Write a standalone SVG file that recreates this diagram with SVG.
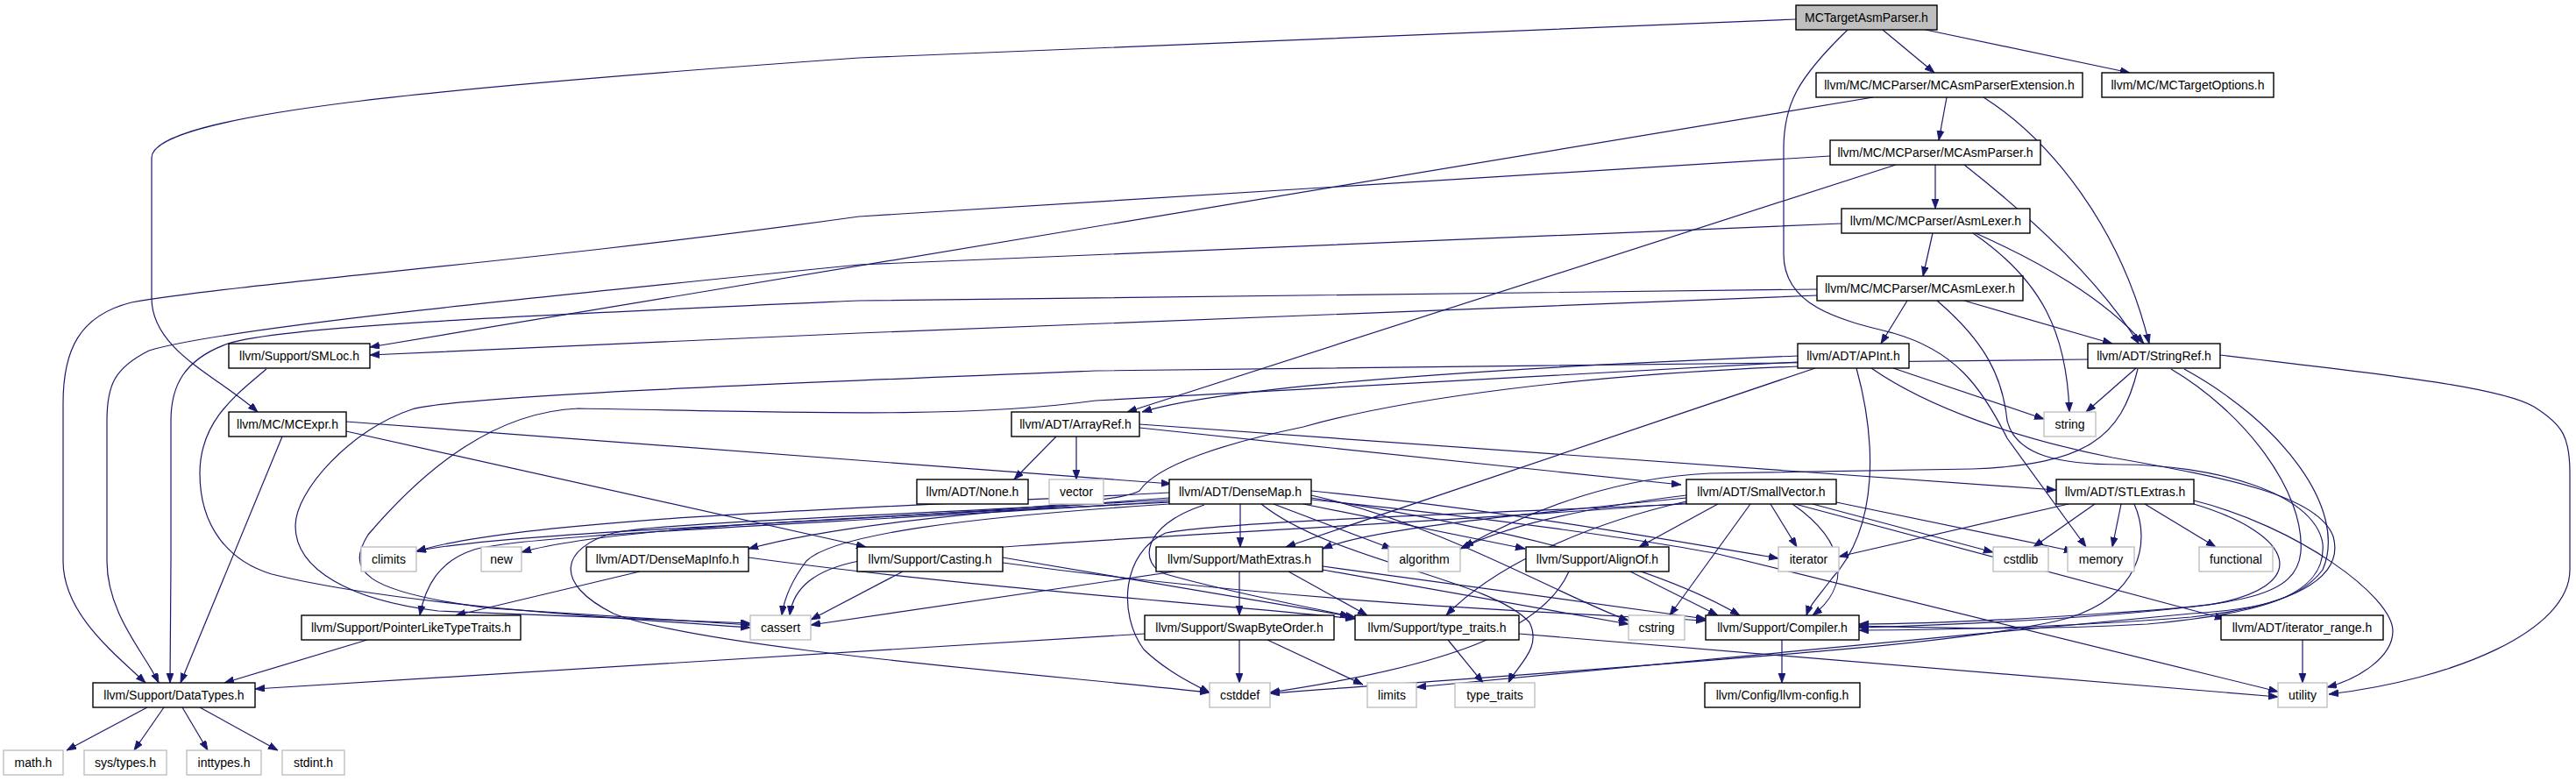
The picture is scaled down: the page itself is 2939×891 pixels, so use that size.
<svg xmlns="http://www.w3.org/2000/svg" width="2939" height="891" viewBox="0 0 2939 891">
<style>
.n rect{fill:#fff;stroke:#000;stroke-width:1.4}
.g rect{fill:#fff;stroke:#bfbfbf;stroke-width:1.4}
.root rect{fill:#bfbfbf;stroke:#000;stroke-width:1.4}
text{font-family:"Liberation Sans",Arial,sans-serif;font-size:14px;fill:#000;text-anchor:middle}
#edges path{fill:none;stroke:#191970;stroke-width:1.2;marker-end:url(#arr)}
</style>
<defs>
<marker id="arr" markerUnits="userSpaceOnUse" markerWidth="12" markerHeight="9" refX="11" refY="4" orient="auto">
<path d="M0,0 L11,4 L0,8 z" fill="#191970" stroke="#191970" stroke-width="0.8"/>
</marker>
</defs>
<rect width="2939" height="891" fill="#fff"/>
<g id="edges">
<path d="M2148,34 L2207,83"/>
<path d="M2197,34 L2430,83"/>
<path d="M2049,22 L980,66 C500,100 173,130 173,180 L173,340 C173,400 250,430 294,470"/>
<path d="M2108,34 C2050,90 2035,120 2035,170 L2035,290 C2035,350 2100,365 2160,380 C2230,400 2260,440 2290,500 L2380,624"/>
<path d="M2221,111 L2212,160"/>
<path d="M2263,111 C2340,160 2420,260 2452,392"/>
<path d="M2137,111 L422,396"/>
<path d="M2208,188 L2208,238"/>
<path d="M2241,188 C2320,250 2395,320 2440,392"/>
<path d="M2163,188 L1286,470"/>
<path d="M2088,178 L980,247 C600,300 300,320 150,345 C90,360 72,400 72,460 L72,640 C72,700 130,745 166,779"/>
<path d="M2205,266 L2194,315"/>
<path d="M2254,266 C2330,300 2400,340 2446,392"/>
<path d="M2251,266 C2330,320 2358,380 2361,470"/>
<path d="M2101,255 L980,302 C600,340 250,375 170,400 C130,420 122,440 122,480 L122,640 C122,700 165,745 181,779"/>
<path d="M2176,343 L2146,392"/>
<path d="M2241,343 L2410,392"/>
<path d="M2210,343 C2265,390 2285,430 2290,480 C2300,520 2350,530 2420,530 C2520,530 2640,560 2650,620 C2655,680 2580,700 2450,712 C2300,720 2200,716 2121,714"/>
<path d="M2073,330 L980,343 C600,360 320,372 260,392 C210,410 195,440 195,480 L195,640 C195,700 194,745 194,779"/>
<path d="M2073,337 L980,380 L422,405"/>
<path d="M2051,406 C1700,420 1400,440 1303,470"/>
<path d="M2071,420 L1467,624"/>
<path d="M2118,420 C2140,500 2145,600 2090,660 C2075,680 2065,690 2061,702"/>
<path d="M2051,413 L1250,457 C1100,478 900,470 660,466 C560,470 480,540 420,610 C395,650 410,675 560,694 L856,713"/>
<path d="M2051,418 C1800,428 1600,455 1487,487 C1400,505 1320,530 1300,560 C1250,590 600,600 475,629"/>
<path d="M2135,420 C2200,465 2300,500 2410,522 C2540,545 2645,565 2662,612 C2676,662 2610,692 2500,704 C2350,716 2200,719 2121,719"/>
<path d="M2160,420 L2332,478"/>
<path d="M2437,420 L2380,470"/>
<path d="M2382,410 L1250,423 C900,437 520,452 470,467 C400,490 337,560 337,600 C337,650 400,685 500,697 L856,711"/>
<path d="M2439,421 C2420,500 2380,530 2250,535 L1950,540 C1850,545 1760,575 1670,624"/>
<path d="M2477,421 C2560,470 2630,560 2625,630 C2620,680 2560,690 2400,700 C2250,710 2180,712 2121,712"/>
<path d="M2492,421 C2600,480 2680,580 2650,650 C2620,690 2560,696 2500,700 L1616,784"/>
<path d="M2533,405 C2700,425 2850,440 2891,464 C2925,485 2932,500 2932,540 L2932,650 C2932,720 2800,775 2657,792"/>
<path d="M304,421 C270,450 228,480 228,540 C228,600 260,640 310,655 C450,690 700,705 856,716"/>
<path d="M322,498 L206,779"/>
<path d="M395,481 L1336,552"/>
<path d="M395,492 L988,624"/>
<path d="M1205,498 L1157,547"/>
<path d="M1228,498 L1228,547"/>
<path d="M1300,488 L1918,553"/>
<path d="M1300,484 L2346,559"/>
<path d="M1334,568 C1100,585 950,600 854,626"/>
<path d="M1487,575 L1740,626"/>
<path d="M1496,568 C1700,600 1880,640 1985,702"/>
<path d="M1415,575 L1415,624"/>
<path d="M1334,572 C900,600 600,610 541,627 C500,640 485,670 479,702"/>
<path d="M1374,576 C1300,600 1300,645 1330,655 C1400,675 1480,690 1540,703"/>
<path d="M1453,575 L1588,626"/>
<path d="M1334,575 C1100,590 950,610 920,640 C905,660 895,680 892,702"/>
<path d="M1334,562 C1000,580 600,590 475,629"/>
<path d="M1334,570 C1100,585 760,595 700,608 C640,625 630,665 700,700 C800,740 1200,770 1380,790"/>
<path d="M1496,565 C1650,600 1780,680 1858,708"/>
<path d="M1496,560 C1700,580 1900,615 2029,637"/>
<path d="M1334,573 C1000,590 700,600 595,630"/>
<path d="M1496,570 C1700,590 1900,620 1960,632 L2599,789"/>
<path d="M2048,575 L2538,706"/>
<path d="M1960,575 L1870,624"/>
<path d="M2045,575 C2110,620 2110,670 2068,702"/>
<path d="M1924,568 C1700,590 1560,605 1509,626"/>
<path d="M1924,572 C1800,600 1700,650 1650,702"/>
<path d="M1924,565 C1800,580 1720,600 1666,626"/>
<path d="M1924,574 C1600,600 1100,620 980,640 C930,650 905,670 901,702"/>
<path d="M1924,575 C1700,585 1400,595 1330,608 C1280,630 1275,700 1305,741 C1330,765 1360,780 1380,790"/>
<path d="M2068,575 L2274,630"/>
<path d="M1997,575 L1905,702"/>
<path d="M2020,575 L2050,624"/>
<path d="M2095,573 L2366,629"/>
<path d="M2503,575 C2620,610 2640,670 2520,690 C2400,705 2250,712 2121,716"/>
<path d="M2435,575 C2455,620 2440,680 2360,705 C2250,735 1960,753 1449,791"/>
<path d="M2390,575 L2320,624"/>
<path d="M2447,575 L2528,624"/>
<path d="M2360,575 L2098,635"/>
<path d="M2420,575 L2410,624"/>
<path d="M2503,571 C2620,600 2730,680 2730,720 C2730,750 2690,775 2655,784"/>
<path d="M730,652 L520,702"/>
<path d="M854,636 C1100,670 1400,690 1546,706"/>
<path d="M1030,652 L925,707"/>
<path d="M1144,636 L1546,704"/>
<path d="M1144,642 C1500,690 1800,700 1946,708"/>
<path d="M1414,652 L1414,702"/>
<path d="M1340,652 L925,713"/>
<path d="M1509,650 L1858,712"/>
<path d="M1509,646 L1946,706"/>
<path d="M1470,652 L1560,702"/>
<path d="M1439,575 C1520,640 1700,660 1745,710 C1760,740 1730,760 1721,779"/>
<path d="M1790,652 C1760,720 1650,760 1449,790"/>
<path d="M1860,652 L1960,702"/>
<path d="M419,730 L256,779"/>
<path d="M1306,723 L291,786"/>
<path d="M1414,730 L1414,779"/>
<path d="M1446,730 L1555,781"/>
<path d="M1652,730 L1692,779"/>
<path d="M1733,723 L2599,795"/>
<path d="M2033,730 L2033,779"/>
<path d="M2627,730 L2627,779"/>
<path d="M168,807 L76,856"/>
<path d="M187,807 L153,856"/>
<path d="M208,807 L237,856"/>
<path d="M228,807 L317,856"/>
</g>
<g id="n0" class="root"><rect x="2049" y="6" width="161" height="28"/><text x="2129.5" y="25">MCTargetAsmParser.h</text></g>
<g id="n1" class="n"><rect x="2072" y="83" width="304" height="28"/><text x="2224" y="102">llvm/MC/MCParser/MCAsmParserExtension.h</text></g>
<g id="n2" class="n"><rect x="2398" y="83" width="196" height="28"/><text x="2496" y="102">llvm/MC/MCTargetOptions.h</text></g>
<g id="n3" class="n"><rect x="2088" y="160" width="240" height="28"/><text x="2208" y="179">llvm/MC/MCParser/MCAsmParser.h</text></g>
<g id="n4" class="n"><rect x="2101" y="238" width="215" height="28"/><text x="2208.5" y="257">llvm/MC/MCParser/AsmLexer.h</text></g>
<g id="n5" class="n"><rect x="2073" y="315" width="235" height="28"/><text x="2190.5" y="334">llvm/MC/MCParser/MCAsmLexer.h</text></g>
<g id="n6" class="n"><rect x="2051" y="392" width="127" height="28"/><text x="2114.5" y="411">llvm/ADT/APInt.h</text></g>
<g id="n7" class="n"><rect x="2382" y="392" width="151" height="28"/><text x="2457.5" y="411">llvm/ADT/StringRef.h</text></g>
<g id="n8" class="n"><rect x="261" y="392" width="161" height="28"/><text x="341.5" y="411">llvm/Support/SMLoc.h</text></g>
<g id="n9" class="n"><rect x="261" y="470" width="134" height="28"/><text x="328" y="489">llvm/MC/MCExpr.h</text></g>
<g id="n10" class="n"><rect x="1154" y="470" width="146" height="28"/><text x="1227" y="489">llvm/ADT/ArrayRef.h</text></g>
<g id="n11" class="g"><rect x="2332" y="470" width="59" height="28"/><text x="2361.5" y="489">string</text></g>
<g id="n12" class="n"><rect x="1046" y="547" width="127" height="28"/><text x="1109.5" y="566">llvm/ADT/None.h</text></g>
<g id="n13" class="g"><rect x="1197" y="547" width="62" height="28"/><text x="1228" y="566">vector</text></g>
<g id="n14" class="n"><rect x="1334" y="547" width="162" height="28"/><text x="1415" y="566">llvm/ADT/DenseMap.h</text></g>
<g id="n15" class="n"><rect x="1924" y="547" width="171" height="28"/><text x="2009.5" y="566">llvm/ADT/SmallVector.h</text></g>
<g id="n16" class="n"><rect x="2346" y="547" width="157" height="28"/><text x="2424.5" y="566">llvm/ADT/STLExtras.h</text></g>
<g id="n17" class="g"><rect x="412" y="624" width="63" height="28"/><text x="443.5" y="643">climits</text></g>
<g id="n18" class="g"><rect x="549" y="624" width="46" height="28"/><text x="572" y="643">new</text></g>
<g id="n19" class="n"><rect x="669" y="624" width="185" height="28"/><text x="761.5" y="643">llvm/ADT/DenseMapInfo.h</text></g>
<g id="n20" class="n"><rect x="978" y="624" width="166" height="28"/><text x="1061" y="643">llvm/Support/Casting.h</text></g>
<g id="n21" class="n"><rect x="1319" y="624" width="190" height="28"/><text x="1414" y="643">llvm/Support/MathExtras.h</text></g>
<g id="n22" class="g"><rect x="1584" y="624" width="82" height="28"/><text x="1625" y="643">algorithm</text></g>
<g id="n23" class="n"><rect x="1741" y="624" width="163" height="28"/><text x="1822.5" y="643">llvm/Support/AlignOf.h</text></g>
<g id="n24" class="g"><rect x="2029" y="624" width="69" height="28"/><text x="2063.5" y="643">iterator</text></g>
<g id="n25" class="g"><rect x="2274" y="624" width="63" height="28"/><text x="2305.5" y="643">cstdlib</text></g>
<g id="n26" class="g"><rect x="2359" y="624" width="76" height="28"/><text x="2397" y="643">memory</text></g>
<g id="n27" class="g"><rect x="2509" y="624" width="84" height="28"/><text x="2551" y="643">functional</text></g>
<g id="n28" class="n"><rect x="344" y="702" width="250" height="28"/><text x="469" y="721">llvm/Support/PointerLikeTypeTraits.h</text></g>
<g id="n29" class="g"><rect x="856" y="702" width="69" height="28"/><text x="890.5" y="721">cassert</text></g>
<g id="n30" class="n"><rect x="1306" y="702" width="216" height="28"/><text x="1414" y="721">llvm/Support/SwapByteOrder.h</text></g>
<g id="n31" class="n"><rect x="1546" y="702" width="187" height="28"/><text x="1639.5" y="721">llvm/Support/type_traits.h</text></g>
<g id="n32" class="g"><rect x="1858" y="702" width="64" height="28"/><text x="1890" y="721">cstring</text></g>
<g id="n33" class="n"><rect x="1946" y="702" width="175" height="28"/><text x="2033.5" y="721">llvm/Support/Compiler.h</text></g>
<g id="n34" class="n"><rect x="2534" y="702" width="185" height="28"/><text x="2626.5" y="721">llvm/ADT/iterator_range.h</text></g>
<g id="n35" class="n"><rect x="106" y="779" width="185" height="28"/><text x="198.5" y="798">llvm/Support/DataTypes.h</text></g>
<g id="n36" class="g"><rect x="1380" y="779" width="69" height="28"/><text x="1414.5" y="798">cstddef</text></g>
<g id="n37" class="g"><rect x="1560" y="779" width="56" height="28"/><text x="1588" y="798">limits</text></g>
<g id="n38" class="g"><rect x="1660" y="779" width="91" height="28"/><text x="1705.5" y="798">type_traits</text></g>
<g id="n39" class="n"><rect x="1945" y="779" width="177" height="28"/><text x="2033.5" y="798">llvm/Config/llvm-config.h</text></g>
<g id="n40" class="g"><rect x="2599" y="779" width="56" height="28"/><text x="2627" y="798">utility</text></g>
<g id="n41" class="g"><rect x="4" y="856" width="68" height="28"/><text x="38" y="875">math.h</text></g>
<g id="n42" class="g"><rect x="96" y="856" width="94" height="28"/><text x="143" y="875">sys/types.h</text></g>
<g id="n43" class="g"><rect x="213" y="856" width="85" height="28"/><text x="255.5" y="875">inttypes.h</text></g>
<g id="n44" class="g"><rect x="322" y="856" width="71" height="28"/><text x="357.5" y="875">stdint.h</text></g>
</svg>
